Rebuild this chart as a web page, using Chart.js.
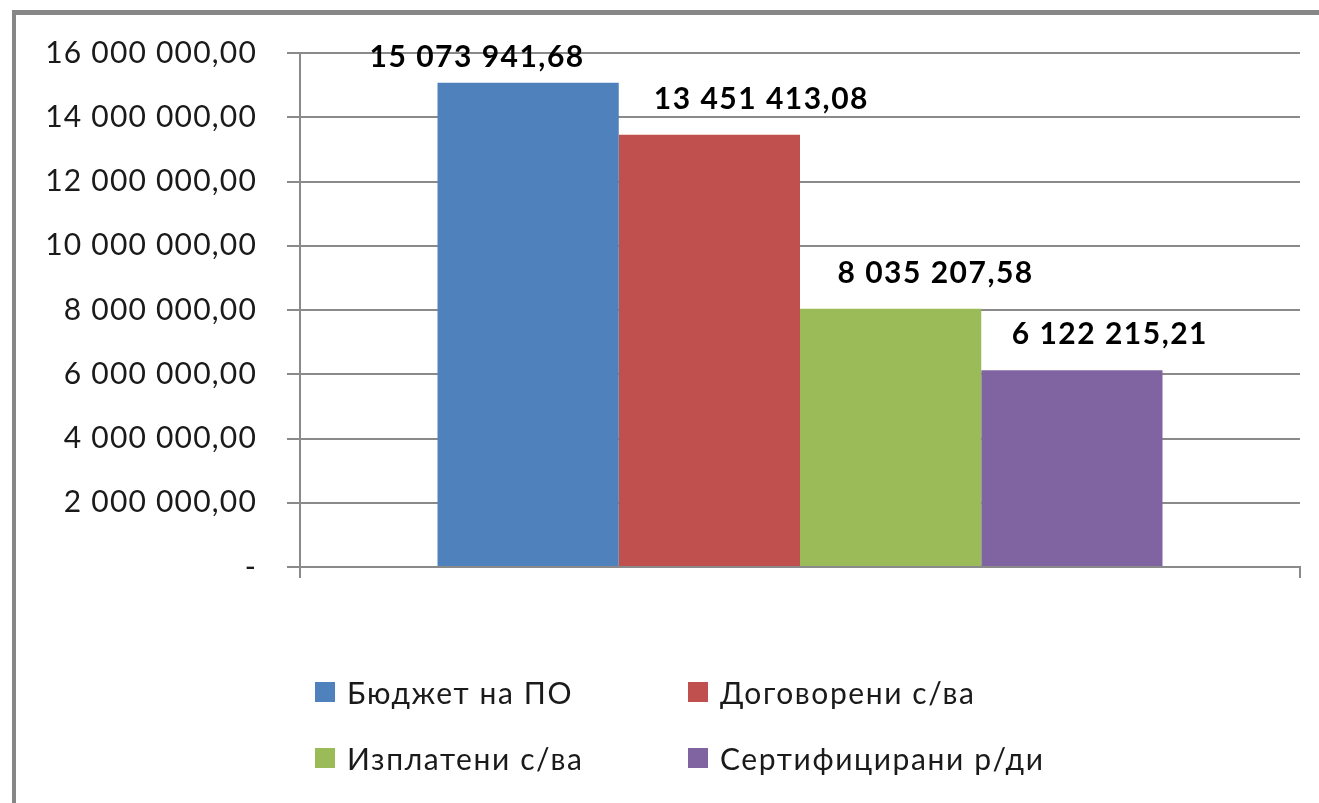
<!DOCTYPE html>
<html>
<head>
<meta charset="utf-8">
<script src="https://cdn.jsdelivr.net/npm/chart.js@4"></script>
<style>
  html, body { margin: 0; padding: 0; background: #fff; overflow: hidden; }
  #wrap { position: relative; width: 1319px; height: 803px; }
  #frame { position: absolute; left: 12px; top: 10px; width: 2000px; height: 2000px;
           border-left: 4px solid #878787; border-top: 5px solid #878787; box-sizing: border-box; }
  canvas { position: absolute; left: 0; top: 0; }
  .leg { position: absolute; font-family: Lato, "Open Sans", sans-serif; font-size: 30px;
         color: #1a1a1a; line-height: 30px; white-space: nowrap; letter-spacing: 1.6px; }
  .sw { position: absolute; width: 20px; height: 20px; }
</style>
</head>
<body>
<div id="wrap">
  <div id="frame"></div>
  <canvas id="c" width="1319" height="803"></canvas>
  <div id="legend"></div>
</div>
<script>
// ---- data ----
const categories = [''];
const seriesNames = ['Бюджет на ПО', 'Договорени с/ва', 'Изплатени с/ва', 'Сертифицирани р/ди'];
const seriesValues = [15073941.68, 13451413.08, 8035207.58, 6122215.21];
const valueLabels = ['15 073 941,68', '13 451 413,08', '8 035 207,58', '6 122 215,21'];
const tickLabels = ['-', '2 000 000,00', '4 000 000,00', '6 000 000,00', '8 000 000,00',
                    '10 000 000,00', '12 000 000,00', '14 000 000,00', '16 000 000,00'];

// ---- style ----
const colors = ['#4F81BD', '#C0504D', '#9BBB59', '#8064A2'];
const labelShiftX = [-51, 52, 45, 38];

const datasets = seriesNames.map((n, i) => ({
  label: n,
  data: [seriesValues[i]],
  backgroundColor: colors[i],
  borderWidth: 0,
  barPercentage: 1,
  categoryPercentage: 0.725
}));

const spacingPlugin = {
  id: 'spacing',
  beforeDraw(chart) { chart.ctx.letterSpacing = '1.2px'; }
};

const labelPlugin = {
  id: 'valueLabels',
  afterDatasetsDraw(chart) {
    const ctx = chart.ctx;
    ctx.save();
    ctx.letterSpacing = '1.5px';
    ctx.font = 'bold 30px Lato, "Open Sans", sans-serif';
    ctx.fillStyle = '#000';
    ctx.textAlign = 'center';
    ctx.textBaseline = 'alphabetic';
    chart.data.datasets.forEach((ds, i) => {
      const el = chart.getDatasetMeta(i).data[0];
      const y = Math.max(el.y - 26, chart.chartArea.top + 14);
      ctx.fillText(valueLabels[i], el.x + labelShiftX[i], y);
    });
    ctx.restore();
  }
};

new Chart(document.getElementById('c'), {
  type: 'bar',
  data: { labels: categories, datasets },
  options: {
    responsive: false,
    animation: false,
    layout: { padding: { top: 53, right: 19, left: 0, bottom: 0 } },
    plugins: { legend: { display: false }, tooltip: { enabled: false } },
    scales: {
      x: {
        offset: true,
        grid: { display: true, drawOnChartArea: false, drawTicks: true, tickLength: 11,
                color: '#8a8a8a', lineWidth: 2 },
        border: { display: true, color: '#8a8a8a', width: 2 },
        ticks: { display: false },
        afterFit(s) { s.height = 803 - 567; }
      },
      y: {
        min: 0, max: 16000000,
        ticks: {
          stepSize: 2000000,
          padding: 30,
          color: '#1a1a1a',
          font: { family: 'Lato, "Open Sans", sans-serif', size: 30 },
          callback: (v, i) => tickLabels[i]
        },
        grid: { color: '#8a8a8a', lineWidth: 2, tickLength: 13 },
        border: { display: true, color: '#8a8a8a', width: 2 },
        afterFit(s) { s.width = 300; }
      }
    }
  },
  plugins: [spacingPlugin, labelPlugin]
});

// legend (HTML)
const legPos = [[315, 682], [688, 682], [315, 748], [688, 748]];
const legend = document.getElementById('legend');
seriesNames.forEach((n, i) => {
  const sw = document.createElement('div');
  sw.className = 'sw';
  sw.style.left = legPos[i][0] + 'px';
  sw.style.top = legPos[i][1] + 'px';
  sw.style.background = colors[i];
  legend.appendChild(sw);
  const t = document.createElement('div');
  t.className = 'leg';
  t.textContent = n;
  t.style.left = (legPos[i][0] + 32) + 'px';
  t.style.top = (legPos[i][1] - 5) + 'px';
  legend.appendChild(t);
});
</script>
</body>
</html>
